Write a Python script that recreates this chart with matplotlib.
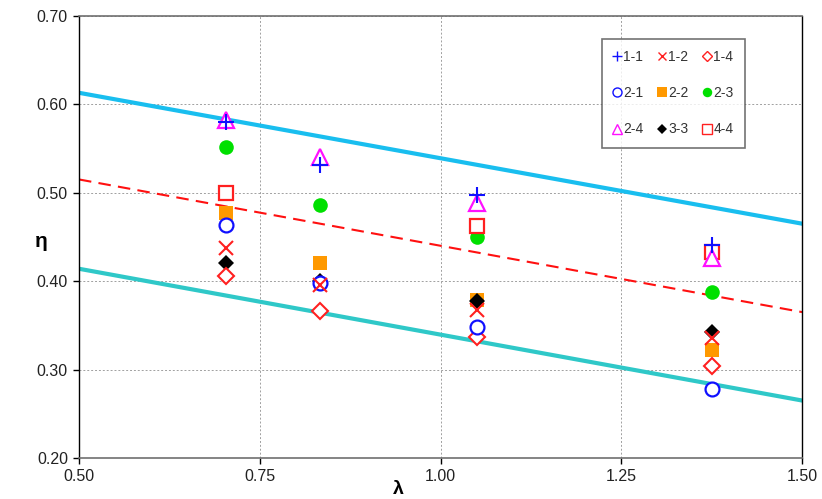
import matplotlib
matplotlib.use("Agg")
import matplotlib.pyplot as plt
import numpy as np

plt.rcParams['font.family'] = ['Liberation Sans', 'DejaVu Sans']

lam = [0.704, 0.833, 1.05, 1.375]

series_names = ["1-1", "1-2", "1-4", "2-1", "2-2", "2-3", "2-4", "3-3", "4-4"]
eta_1_1 = [0.580, 0.531, 0.497, 0.441]
eta_1_2 = [0.438, 0.396, 0.367, 0.336]
eta_1_4 = [0.406, 0.366, 0.337, 0.304]
eta_2_1 = [0.464, 0.398, 0.348, 0.278]
eta_2_2 = [0.477, 0.421, 0.379, 0.322]
eta_2_3 = [0.552, 0.486, 0.450, 0.388]
eta_2_4 = [0.582, 0.540, 0.488, 0.426]
eta_3_3 = [0.420, 0.400, 0.378, 0.343]
eta_4_4 = [0.500, np.nan, 0.462, 0.433]

line_x = [0.50, 1.50]
upper_line = [0.613, 0.465]
mid_line = [0.515, 0.365]
lower_line = [0.414, 0.265]

x_ticks = [0.50, 0.75, 1.00, 1.25, 1.50]
y_ticks = [0.20, 0.30, 0.40, 0.50, 0.60, 0.70]

fig = plt.figure(figsize=(8.22, 4.99), dpi=100)
ax = fig.add_axes([0.0961, 0.0822, 0.8796, 0.886])

ax.plot(line_x, upper_line, color='#19BEEF', lw=3, zorder=2)
ax.plot(line_x, mid_line, color='#FF1010', lw=1.5, ls=(0, (6, 3.5)), zorder=2)
ax.plot(line_x, lower_line, color='#2FC8C8', lw=3, zorder=2)

styles = {
    "1-1": dict(marker='+', color='#1010FF', mfc='#1010FF', ms=11, mew=1.5),
    "1-2": dict(marker='x', color='#FF2020', mfc='#FF2020', ms=9.5, mew=1.5),
    "1-4": dict(marker='D', color='#FF2020', mfc='white', ms=8, mew=1.5),
    "2-1": dict(marker='o', color='#1010FF', mfc='white', ms=10, mew=1.6),
    "2-2": dict(marker='s', color='#FF9900', mfc='#FF9900', ms=10, mew=0),
    "2-3": dict(marker='o', color='#00E000', mfc='#00E000', ms=10.5, mew=0),
    "2-4": dict(marker='^', color='#FF10FF', mfc='white', ms=11, mew=1.6),
    "3-3": dict(marker='D', color='black', mfc='black', ms=8.5, mew=0),
    "4-4": dict(marker='s', color='#FF2020', mfc='white', ms=10, mew=1.6),
}
data = {
    "1-1": eta_1_1, "1-2": eta_1_2, "1-4": eta_1_4,
    "2-1": eta_2_1, "2-2": eta_2_2, "2-3": eta_2_3,
    "2-4": eta_2_4, "3-3": eta_3_3, "4-4": eta_4_4,
}
draw_order = ["2-3", "2-2", "3-3", "1-4", "2-1", "1-2", "4-4", "2-4", "1-1"]
for name in draw_order:
    st = styles[name]
    ax.plot(lam, data[name], ls='none', marker=st['marker'], mec=st['color'],
            mfc=st['mfc'], ms=st['ms'], mew=st['mew'], label=name, zorder=3)

ax.set_xlim(0.5, 1.5)
ax.set_ylim(0.2, 0.7)
ax.set_xticks(x_ticks)
ax.set_yticks(y_ticks)
ax.set_xticklabels([f"{v:.2f}" for v in x_ticks])
ax.set_yticklabels([f"{v:.2f}" for v in y_ticks])
ax.tick_params(direction='out', length=4, width=1, labelsize=11.5, colors='black', pad=4)
for t in ax.get_xticklabels() + ax.get_yticklabels():
    t.set_color('#222222')
ax.grid(True, color='#A0A0A0', ls=(0, (2, 2)), lw=0.7)
ax.set_axisbelow(True)
for s in ['left', 'right']:
    ax.spines[s].set_color('black')
    ax.spines[s].set_linewidth(1.0)
for s in ['top', 'bottom']:
    ax.spines[s].set_color('#707070')
    ax.spines[s].set_linewidth(1.2)

ax.set_xlabel('λ', fontsize=14, fontweight='bold')
ax.set_ylabel('η', fontsize=15, fontweight='bold', rotation=0, va='center', ha='center')
ax.xaxis.set_label_coords(0.441, -0.052)
ax.yaxis.set_label_coords(-0.052, 0.49)

leg_order = ["1-1", "2-1", "2-4", "1-2", "2-2", "3-3", "1-4", "2-3", "4-4"]
leg_handles = []
for name in leg_order:
    st = styles[name]
    lh = plt.Line2D([], [], ls='none', marker=st['marker'], mec=st['color'], mfc=st['mfc'],
                    ms=st['ms'] * 0.65, mew=1.0 if st['mew'] else 0)
    leg_handles.append(lh)
leg = ax.legend(leg_handles, leg_order, ncol=3, loc='upper left',
                bbox_to_anchor=(0.7234, 0.948), borderaxespad=0, fontsize=10,
                frameon=True, fancybox=False,
                edgecolor='#505050', handlelength=0.5, handletextpad=0.2,
                columnspacing=1.1, labelspacing=1.6, borderpad=0.8)
leg.get_frame().set_linewidth(1.2)
for t in leg.get_texts():
    t.set_color('#333333')

fig.savefig('out.png', dpi=100)
